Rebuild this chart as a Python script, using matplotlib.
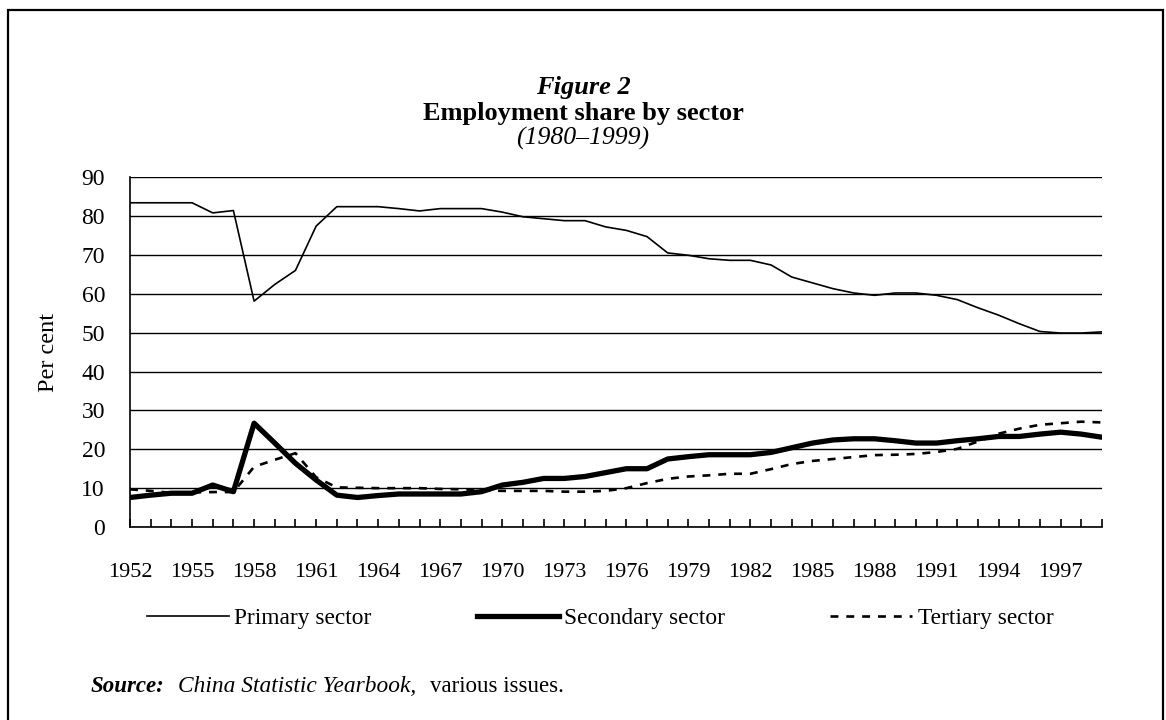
"""Employment share by sector in China, 1952-1999 (Figure 2 recreation)."""

import matplotlib

matplotlib.use("Agg")

import matplotlib.pyplot as plt
from matplotlib.patches import Rectangle

plt.rcParams["font.family"] = ["Liberation Serif", "DejaVu Serif"]

# Data (per cent of employment)
years = list(range(1952, 2000))

primary = [
    83.4, 83.4, 83.4, 83.4, 80.8, 81.4, 58.1, 62.4, 66.0, 77.4,
    82.4, 82.4, 82.4, 81.9, 81.3, 81.9, 81.9, 81.9, 81.0, 79.8,
    79.3, 78.8, 78.8, 77.2, 76.3, 74.7, 70.5, 69.9, 69.0, 68.6,
    68.6, 67.4, 64.3, 62.8, 61.3, 60.2, 59.6, 60.2, 60.2, 59.6,
    58.5, 56.4, 54.5, 52.3, 50.3, 49.9, 49.9, 50.2,
]
secondary = [
    7.6, 8.2, 8.7, 8.7, 10.8, 9.1, 26.7, 21.6, 16.4, 12.1,
    8.2, 7.6, 8.1, 8.5, 8.5, 8.5, 8.5, 9.1, 10.8, 11.5,
    12.5, 12.5, 13.0, 14.0, 15.0, 15.0, 17.5, 18.1, 18.6, 18.6,
    18.6, 19.2, 20.4, 21.6, 22.4, 22.7, 22.7, 22.2, 21.6, 21.6,
    22.2, 22.7, 23.3, 23.3, 23.9, 24.4, 23.9, 23.1,
]
tertiary = [
    9.7, 9.3, 8.8, 8.9, 9.0, 9.0, 15.5, 17.3, 19.0, 12.8,
    10.2, 10.1, 10.0, 10.0, 10.0, 9.8, 9.7, 9.5, 9.3, 9.3,
    9.3, 9.1, 9.1, 9.3, 10.0, 11.3, 12.4, 13.0, 13.3, 13.7,
    13.7, 14.9, 16.2, 17.0, 17.5, 18.0, 18.5, 18.6, 18.8, 19.3,
    20.1, 22.0, 24.0, 25.3, 26.3, 26.7, 27.1, 26.9,
]
tick_years = list(range(1952, 2000, 3))


def main():
    fig = plt.figure(figsize=(11.66, 7.2), dpi=100)
    ax = fig.add_axes([0.1115, 0.268, 0.8336, 0.486])

    ax.plot(years, primary, color="black", lw=1.2, label="Primary sector")
    ax.plot(years, secondary, color="black", lw=3.8, label="Secondary sector")
    ax.plot(years, tertiary, color="black", lw=1.9, linestyle=(0, (3, 3)),
            label="Tertiary sector")

    ax.set_xlim(1952, 1999)
    ax.set_ylim(0, 90)
    ax.set_yticks(range(0, 91, 10))
    ax.set_xticks(years)
    ax.set_xticklabels([str(y) if y in tick_years else "" for y in years])
    ax.yaxis.grid(True, color="black", lw=1.0)
    ax.set_axisbelow(True)
    for side in ["top", "right"]:
        ax.spines[side].set_visible(False)
    ax.spines["left"].set_linewidth(1.2)
    ax.spines["bottom"].set_linewidth(1.2)
    ax.tick_params(axis="x", direction="in", length=6, width=1.2,
                   pad=26, labelsize=16)
    ax.tick_params(axis="y", length=0, pad=18, labelsize=17)
    ax.set_ylabel("Per cent", fontsize=17.5, labelpad=16)

    fig.text(0.5, 0.879, "Figure 2", ha="center", va="center",
             fontsize=19, fontweight="bold", style="italic")
    fig.text(0.5, 0.843, "Employment share by sector", ha="center",
             va="center", fontsize=19, fontweight="bold")
    fig.text(0.5, 0.808, "(1980\u20131999)", ha="center", va="center",
             fontsize=18.5, style="italic")

    fig.legend(loc="center left", bbox_to_anchor=(147 / 1166, 1 - 618 / 720),
               ncol=3, frameon=False, fontsize=16.8, handlelength=3.5,
               handletextpad=0.25, columnspacing=4.5, borderpad=0,
               borderaxespad=0)

    y_src = 1 - 686 / 720
    fig.text(91 / 1166, y_src, "Source:", fontsize=16.5, fontweight="bold",
             style="italic", va="center")
    fig.text(178 / 1166, y_src, "China Statistic Yearbook,", fontsize=16.8,
             style="italic", va="center")
    fig.text(430 / 1166, y_src, "various issues.", fontsize=16.5,
             va="center")

    # outer frame like the original document box
    fig.patches.append(Rectangle((8 / 1166, -0.05), 1155 / 1166, 1.036,
                                 transform=fig.transFigure, fill=False,
                                 edgecolor="black", lw=1.6))

    fig.savefig("out.png", dpi=100)


if __name__ == "__main__":
    main()
